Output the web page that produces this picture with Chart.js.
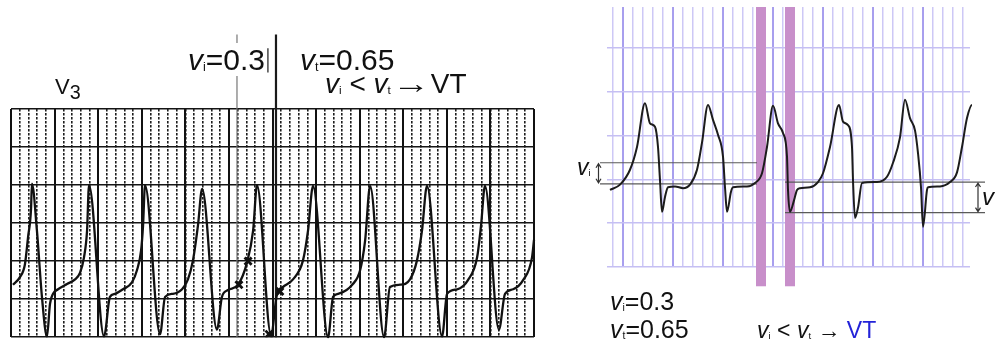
<!DOCTYPE html>
<html>
<head>
<meta charset="utf-8">
<script src="https://cdn.jsdelivr.net/npm/chart.js@4.4.1/dist/chart.umd.min.js"></script>
<style>
  body { margin: 0; width: 995px; height: 345px; background: #fff; overflow: hidden; position: relative;
         font-family: "Liberation Sans", Arial, sans-serif; }
  #leftBox { position: absolute; left: 0; top: 0; width: 550px; height: 345px; }
  #rightBox { position: absolute; left: 575px; top: 0; width: 420px; height: 345px; }
  .lbl { position: absolute; white-space: nowrap; line-height: 1; color: #111; }
  .lbl i { font-style: italic; }
  .s { font-size: 0.42em; position: relative; top: 1px; }
  .arr { display: inline-block; transform: scaleX(1.35); margin: 0 6px; }
</style>
</head>
<body>
<div id="leftBox"><canvas id="stripChart"></canvas></div>
<div id="rightBox"><canvas id="traceChart"></canvas></div>

<div class="lbl" style="left:55px;top:76px;font-size:22px;">V<span style="font-size:0.9em;position:relative;top:5px;">3</span></div>
<div class="lbl" style="left:186px;top:43px;font-size:30px;background:#fff;padding:2px 2px 1px 2px;"><i>v</i><span class="s">i</span>=0.3</div>
<div class="lbl" style="left:300px;top:45px;font-size:30px;"><i>v</i><span class="s">t</span>=0.65</div>
<div class="lbl" style="left:325px;top:70px;font-size:28px;"><i>v</i><span class="s">i</span> &lt; <i>v</i><span class="s">t</span><span class="arr">→</span>VT</div>

<div class="lbl" style="left:577px;top:156px;font-size:23px;"><i>v</i><span class="s">i</span></div>
<div class="lbl" style="left:982px;top:185px;font-size:24px;"><i>v</i></div>
<div class="lbl" style="left:610px;top:289px;font-size:25px;"><i>v</i><span class="s">i</span>=0.3</div>
<div class="lbl" style="left:610px;top:317px;font-size:25px;"><i>v</i><span class="s">t</span>=0.65</div>
<div class="lbl" style="left:757px;top:319px;font-size:23px;"><i>v</i><span class="s">i</span> &lt; <i>v</i><span class="s">t</span> → <span style="color:#2323d8;">VT</span></div>

<script>
// Left strip (V3 lead): time in ms, amplitude in mV
const stripTimeMs = [9, 41, 64, 78, 92, 96, 119, 142, 165,
  179, 193, 216, 257, 294, 317, 335, 349, 358, 427,
  454, 477, 514, 555, 578, 597, 606, 615, 684,
  707, 743, 785, 812, 835, 858, 877, 945,
  968, 996, 1042, 1083, 1111, 1129, 1193,
  1221, 1248, 1294, 1340, 1363, 1386, 1455,
  1478, 1501, 1569, 1602, 1625, 1648, 1712,
  1739, 1785, 1831, 1863, 1886, 1909, 1978,
  2001, 2047, 2097, 2139, 2157, 2175, 2239,
  2267, 2304, 2350, 2391, 2400];
const stripMv = [0.69, 0.79, 0.96, 1.31, 1.69, 2.02, 1.40, 0.53, 0.01,
  0.44, 0.57, 0.63, 0.70, 0.76, 0.85, 1.05, 1.40, 2.00, 0.01,
  0.53, 0.57, 0.63, 0.72, 0.88, 1.14, 1.47, 2.00, 0.04,
  0.53, 0.57, 0.63, 0.76, 1.01, 1.47, 1.95, 0.10,
  0.53, 0.62, 0.69, 0.98, 1.40, 2.00, 0.03,
  0.57, 0.66, 0.76, 1.01, 1.40, 1.99, 0.00,
  0.53, 0.57, 0.70, 0.88, 1.27, 1.99, 0.00,
  0.66, 0.69, 0.76, 1.01, 1.40, 1.99, 0.01,
  0.57, 0.63, 0.75, 1.05, 1.47, 1.99, 0.10,
  0.57, 0.63, 0.75, 1.05, 1.28];

// crosses marking the vi / vt measurement points
const markTimeMs = [1088, 1046, 1234, 1184];
const markMv = [1.00, 0.69, 0.60, 0.04];

// vertical measurement lines (time, bottom mV, top mV)
const cursorTimeMs = [1037, 1216, 1179];
const cursorLow = [0, 0, 3.48];
const cursorHigh = [3.98, 3.98, 3.80];

// Right trace: time in ms, amplitude in mV
const traceTimeMs = [-52, -12, 28, 56, 88, 108, 128, 140, 148, 156,
  168, 180, 208, 240, 268, 296, 316, 340, 360, 380,
  400, 408, 416, 432, 440, 496, 528, 556, 576, 600,
  620, 640, 656, 660, 668, 684, 696, 708, 748, 780,
  800, 828, 864, 880, 900, 916, 920, 928, 940, 956,
  1016, 1056, 1080, 1108, 1128, 1148, 1168, 1180, 1192, 1200,
  1216, 1220, 1268, 1308, 1336, 1356, 1376, 1396, 1404];
const traceMv = [0.88, 0.94, 1.11, 1.37, 1.87, 1.64, 1.60, 1.37, 0.99, 0.63,
  0.80, 0.91, 0.92, 0.90, 0.94, 1.11, 1.42, 1.85, 1.68, 1.51,
  1.26, 0.91, 0.63, 0.86, 0.91, 0.92, 0.96, 1.07, 1.37, 1.84,
  1.64, 1.53, 1.26, 0.88, 0.63, 0.76, 0.88, 0.90, 0.91, 0.97,
  1.07, 1.37, 1.85, 1.66, 1.62, 1.37, 0.99, 0.56, 0.68, 0.96,
  0.97, 1.03, 1.19, 1.48, 1.91, 1.70, 1.56, 1.30, 0.91, 0.46,
  0.88, 0.91, 0.92, 0.97, 1.08, 1.37, 1.70, 1.85, 1.83];

// horizontal measurement lines
const viLevels = [1.19, 0.95];
const viSpan = [-92, 536];
const vtLevels = [0.97, 0.62];
const vtSpan = [648, 1448];

// highlighted intervals on the right trace
const bandStartMs = [532, 648];
const bandEndMs = [572, 688];
const bandBottomMv = -0.22;

// grid tick values
const stripMinorTicks = [], stripMajorTicks = [], stripMvTicks = [];
for (let t = 0; t <= 2400; t += 40) stripMinorTicks.push(t);
for (let t = 0; t <= 2400; t += 200) stripMajorTicks.push(t);
for (let v = 0; v <= 3; v += 0.5) stripMvTicks.push(v);
const traceMinorTicks = [], traceMajorTicks = [], traceMvTicks = [];
for (let t = -40; t <= 1360; t += 40) traceMinorTicks.push(t);
for (let t = 0; t <= 1200; t += 200) traceMajorTicks.push(t);
for (let v = 0; v <= 2.5; v += 0.5) traceMvTicks.push(v);

const toPoints = (xs, ys) => xs.map((x, i) => ({ x: x, y: ys[i] }));
const setTicks = values => scale => { scale.ticks = values.map(v => ({ value: v })); };

function gridAxis(min, max, values, color, width, dash, extra) {
    return Object.assign({
        type: 'linear', min: min, max: max,
        afterBuildTicks: setTicks(values),
        ticks: { display: false },
        grid: { color: color, lineWidth: width, drawTicks: false },
        border: { display: false, dash: dash }
    }, extra || {});
}

Chart.defaults.animation = false;
Chart.defaults.plugins.legend.display = false;
Chart.defaults.plugins.tooltip.enabled = false;

// Left strip chart
const cursorSets = cursorTimeMs.map((t, i) => ({
    data: [{ x: t, y: cursorLow[i] }, { x: t, y: cursorHigh[i] }],
    borderColor: i === 0 ? '#777' : '#1a1a1a',
    borderWidth: i === 1 ? 2.2 : 1.2,
    pointRadius: 0, clip: false
}));

new Chart(document.getElementById('stripChart'), {
    type: 'line',
    data: {
        datasets: [
            {
                data: toPoints(stripTimeMs, stripMv),
                borderColor: '#111', borderWidth: 2.3,
                pointRadius: 0, cubicInterpolationMode: 'monotone', clip: false
            },
            {
                data: toPoints(markTimeMs, markMv),
                showLine: false, pointStyle: 'crossRot', pointRadius: 5,
                pointBorderWidth: 2.8, pointBorderColor: '#111'
            },
            ...cursorSets
        ]
    },
    options: {
        responsive: true, maintainAspectRatio: false,
        layout: { padding: { left: 11, right: 16, top: 109, bottom: 4 } },
        scales: {
            x: gridAxis(0, 2400, stripMinorTicks, '#1e1e1e', 1.6, [2.5, 1.5]),
            xMajor: gridAxis(0, 2400, stripMajorTicks, '#111', 2, [], { axis: 'x', position: 'bottom' }),
            y: gridAxis(0, 3, stripMvTicks, '#151515', 1.6, [])
        }
    }
});

// Right trace chart
const bandPlugin = {
    id: 'bands',
    beforeDatasetsDraw(chart) {
        const { ctx, scales: { x, y } } = chart;
        ctx.save();
        ctx.fillStyle = '#c88fca';
        bandStartMs.forEach((s, i) => {
            const x1 = x.getPixelForValue(s), x2 = x.getPixelForValue(bandEndMs[i]);
            const top = y.getPixelForValue(y.max), bottom = y.getPixelForValue(bandBottomMv);
            ctx.fillRect(x1, top, x2 - x1, bottom - top);
        });
        ctx.restore();
    },
    afterDatasetsDraw(chart) {
        const { ctx, scales: { x, y } } = chart;
        ctx.save();
        ctx.strokeStyle = '#333';
        ctx.lineWidth = 1.2;
        const arrow = (t, hi, lo) => {
            const px = x.getPixelForValue(t), y1 = y.getPixelForValue(hi) + 1, y2 = y.getPixelForValue(lo) - 1;
            ctx.beginPath();
            ctx.moveTo(px, y1); ctx.lineTo(px, y2);
            ctx.moveTo(px - 2.5, y1 + 4); ctx.lineTo(px, y1); ctx.lineTo(px + 2.5, y1 + 4);
            ctx.moveTo(px - 2.5, y2 - 4); ctx.lineTo(px, y2); ctx.lineTo(px + 2.5, y2 - 4);
            ctx.stroke();
        };
        arrow(-98, viLevels[0], viLevels[1]);
        arrow(1420, vtLevels[0], vtLevels[1]);
        ctx.restore();
    }
};

const levelSet = (span, level) => ({
    data: [{ x: span[0], y: level }, { x: span[1], y: level }],
    borderColor: '#5a5a5a', borderWidth: 1.2, pointRadius: 0, clip: false
});

new Chart(document.getElementById('traceChart'), {
    type: 'line',
    data: {
        datasets: [
            {
                data: toPoints(traceTimeMs, traceMv),
                borderColor: '#1c1c1c', borderWidth: 2,
                pointRadius: 0, cubicInterpolationMode: 'monotone', clip: false
            },
            ...viLevels.map(l => levelSet(viSpan, l)),
            ...vtLevels.map(l => levelSet(vtSpan, l))
        ]
    },
    options: {
        responsive: true, maintainAspectRatio: false,
        layout: { padding: { left: 32, right: 25, top: 7, bottom: 78 } },
        scales: {
            x: gridAxis(-64, 1388, traceMinorTicks, '#cdc8f6', 1.5, []),
            xMajor: gridAxis(-64, 1388, traceMajorTicks, '#a89fee', 2, [], { axis: 'x', position: 'bottom' }),
            y: gridAxis(0, 2.968, traceMvTicks, '#c5bff3', 1.5, [])
        }
    },
    plugins: [bandPlugin]
});
</script>
</body>
</html>
